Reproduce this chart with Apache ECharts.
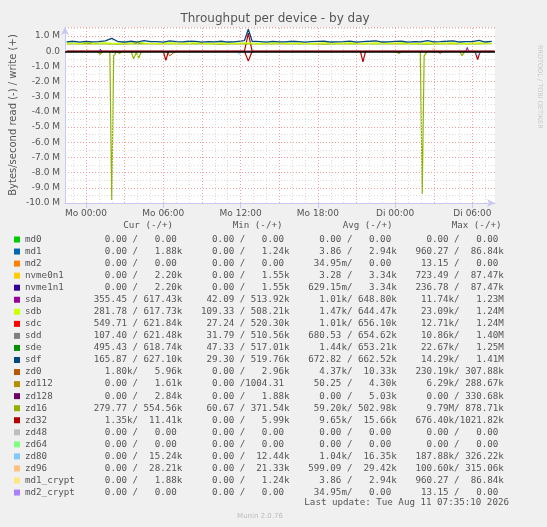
<!DOCTYPE html>
<html><head><meta charset="utf-8">
<script src="https://cdn.jsdelivr.net/npm/echarts@6/dist/echarts.min.js"></script>
<style>html,body{margin:0;background:#f0f0f0}#c{width:547px;height:527px}</style>
</head><body><div id="c"></div>
<script>
// ---- data ----
const names = ["md0","md1","md2","nvme0n1","nvme1n1","sda","sdb","sdc","sdd","sde","sdf","zd0","zd112","zd128","zd16","zd32","zd48","zd64","zd80","zd96","md1_crypt","md2_crypt"];
const colors = ["#00cc00","#0066b3","#ff8000","#ffcc00","#330099","#990099","#ccff00","#ff0000","#808080","#008f00","#00487d","#b35a00","#b38f00","#6b006b","#8fb300","#b30000","#bebebe","#80ff80","#80c9ff","#ffc080","#ffe680","#aa80ff"];
const curR = ["0.00","0.00","0.00","0.00","0.00","355.45","281.78","549.71","107.40","495.43","165.87","1.80k","0.00","0.00","279.77","1.35k","0.00","0.00","0.00","0.00","0.00","0.00"];
const curW = ["0.00","1.88k","0.00","2.20k","2.20k","617.43k","617.73k","621.84k","621.48k","618.74k","627.10k","5.96k","1.61k","2.84k","554.56k","11.41k","0.00","0.00","15.24k","28.21k","1.88k","0.00"];
const minR = ["0.00","0.00","0.00","0.00","0.00","42.09","109.33","27.24","31.79","47.33","29.30","0.00","0.00","0.00","60.67","0.00","0.00","0.00","0.00","0.00","0.00","0.00"];
const minW = ["0.00","1.24k","0.00","1.55k","1.55k","513.92k","508.21k","520.30k","510.56k","517.01k","519.76k","2.96k","1004.31","1.88k","371.54k","5.99k","0.00","0.00","12.44k","21.33k","1.24k","0.00"];
const avgR = ["0.00","3.86","34.95m","3.28","629.15m","1.01k","1.47k","1.01k","680.53","1.44k","672.82","4.37k","50.25","0.00","59.20k","9.65k","0.00","0.00","1.04k","599.09","3.86","34.95m"];
const avgW = ["0.00","2.94k","0.00","3.34k","3.34k","648.80k","644.47k","656.10k","654.62k","653.21k","662.52k","10.33k","4.30k","5.03k","502.98k","15.66k","0.00","0.00","16.35k","29.42k","2.94k","0.00"];
const maxR = ["0.00","960.27","13.15","723.49","236.78","11.74k","23.09k","12.71k","10.86k","22.67k","14.29k","230.19k","6.29k","0.00","9.79M","676.40k","0.00","0.00","187.88k","100.60k","960.27","13.15"];
const maxW = ["0.00","86.84k","0.00","87.47k","87.47k","1.23M","1.24M","1.24M","1.40M","1.25M","1.41M","307.88k","288.67k","330.68k","878.71k","1021.82k","0.00","0.00","326.22k","315.06k","86.84k","0.00"];

// plot series: hours since Mo 00:00, values in M bytes/s (write +, read -)
const sdfW = [[-1.5,0.62],[-1,0.66],[-0.5,0.6],[0,0.65],[0.5,0.62],[1,0.64],[1.5,0.68],[2,0.85],[2.5,0.63],[3,0.61],[3.5,0.66],[4,0.6],[4.5,0.7],[5,0.63],[5.5,0.64],[6,0.6],[6.5,0.68],[7,0.63],[7.5,0.62],[8,0.66],[8.5,0.65],[9,0.6],[9.5,0.63],[10,0.62],[10.5,0.66],[11,0.61],[11.5,0.62],[12.3,0.7],[12.6,1.45],[12.9,0.66],[13.5,0.63],[14,0.6],[14.5,0.65],[15,0.62],[15.5,0.62],[16,0.66],[16.5,0.64],[17,0.6],[17.5,0.63],[18,0.65],[18.5,0.66],[19,0.61],[19.5,0.62],[20,0.64],[20.5,0.67],[21,0.6],[21.5,0.63],[22,0.66],[22.5,0.68],[23,0.61],[23.5,0.62],[24,0.65],[24.5,0.66],[25,0.6],[25.5,0.64],[26,0.62],[26.5,0.7],[27,0.62],[27.5,0.63],[28,0.66],[28.5,0.68],[29,0.61],[29.5,0.64],[30,0.63],[30.5,0.72],[31,0.61],[31.5,0.65]];
const sdbW = [[-1.5,0.55],[-0.5,0.5],[0.2,0.62],[0.5,0.52],[1.5,0.56],[2.5,0.5],[3,0.55],[3.5,0.52],[4,0.62],[4.5,0.54],[5.5,0.5],[6.5,0.56],[7.5,0.52],[8.5,0.55],[9.5,0.5],[10.5,0.54],[11.5,0.52],[12.5,0.56],[13.5,0.5],[14.5,0.55],[15.5,0.52],[16.5,0.54],[17.5,0.5],[18.5,0.55],[19.5,0.52],[20.5,0.56],[21.5,0.5],[22.5,0.55],[23.5,0.52],[24.5,0.56],[25.5,0.5],[26.5,0.55],[27.5,0.52],[28.5,0.56],[29.5,0.5],[30.5,0.55],[31.5,0.52]];
const zd16W = [[-1.5,0.48],[0.5,0.5],[2.5,0.47],[4.5,0.5],[6.5,0.48],[8.5,0.5],[10.5,0.47],[12.5,0.5],[14.5,0.48],[16.5,0.5],[18.5,0.47],[20.5,0.5],[22.5,0.48],[24.5,0.5],[26.5,0.47],[28.5,0.5],[30.5,0.48],[31.5,0.5]];
const zd16R = [[-1.5,0],[0.9,0],[1.1,-0.2],[1.3,0],[1.85,0],[2.0,-9.8],[2.15,-0.3],[2.4,0],[2.6,-0.15],[2.8,0],[3.5,0],[3.7,-0.5],[3.9,-0.1],[4.1,-0.45],[4.3,0],[24,0],[24.3,-0.15],[24.5,0],[25.95,0],[26.1,-9.4],[26.25,-0.3],[26.5,0],[29,0],[29.2,-0.3],[29.4,0],[31.7,0]];
const zd32R = [[-1.5,0],[6,0],[6.2,-0.6],[6.4,0],[8.8,0],[8.9,-0.08],[9,0],[12.3,0],[12.6,-0.65],[12.9,0],[21.3,0],[21.5,-0.7],[21.7,0],[30.2,0],[30.4,-0.55],[30.6,0],[31.7,0]];
const zd32W = [[-1.5,0],[12.3,0],[12.6,1.2],[12.9,0],[31.7,0]];
const zd0R = [[-1.5,0],[6.3,0],[6.5,-0.3],[6.8,-0.1],[7,0],[27.3,0],[27.5,-0.15],[27.7,0],[31.7,0]];
const zd96W = [[-1.5,0],[-0.1,0],[0.1,0.15],[0.3,0],[26.8,0],[27,0.2],[27.2,0],[31.7,0]];
const zd80R = [[-1.5,0],[11.7,0],[11.9,-0.2],[12.1,0],[30.2,0],[30.4,-0.3],[30.6,0],[31.7,0]];
const sdaW = [[-1.5,0],[1,0],[1.1,0.15],[1.2,0],[29.5,0],[29.6,0.25],[29.7,0],[31.7,0]];
const xTicks = [0,6,12,18,24,30];
const xTickLabels = ["Mo 00:00","Mo 06:00","Mo 12:00","Mo 18:00","Di 00:00","Di 06:00"];
const vGrid = [-1,1,2,4,5,7,8,10,11,13,14,16,17,19,20,22,23,25,26,28,29,31];
const vMajor = [0,3,6,9,12,15,18,21,24,27,30];

const chart = echarts.init(document.getElementById('c'), null, {renderer:'canvas'});
const mono = "DejaVu Sans Mono";
const fmtR = v => { const s = /[a-zA-Z]$/.test(v) ? v : v + " "; return s.padStart(7) + "/"; };
const fmtW = v => { const s = /[a-zA-Z]$/.test(v) ? v : v + " "; return s.padStart(8); };
const graphics = [];
const colX = [93.8, 201, 308.2, 415.4];
["Cur (-/+)","Min (-/+)","Avg (-/+)","Max (-/+)"].forEach((h,i)=>{
  graphics.push({type:'text',left:[123.3,232.7,342.7,451.7][i],top:221,style:{text:h,font:`9.2px "${mono}"`,fill:'#555'}});
});
names.forEach((n,i)=>{
  const y = 239.5 + i*12.05;
  graphics.push({type:'rect',shape:{x:14,y:y-3,width:6,height:6},style:{fill:colors[i]}});
  graphics.push({type:'text',x:25,y:y,style:{text:n,font:`9.2px "${mono}"`,fill:'#555',verticalAlign:'middle'}});
  [[curR,curW],[minR,minW],[avgR,avgW],[maxR,maxW]].forEach((c,k)=>{
    graphics.push({type:'text',x:colX[k],y:y,style:{text:fmtR(c[0][i])+fmtW(c[1][i]),font:`9.2px "${mono}"`,fill:'#555',verticalAlign:'middle'}});
  });
});
graphics.push({type:'text',x:509,y:503,style:{text:"Last update: Tue Aug 11 07:35:10 2026",font:`9.2px "${mono}"`,fill:'#555',align:'right',verticalAlign:'middle'}});
graphics.push({type:'text',x:260,y:516,style:{text:"Munin 2.0.76",font:'7px "DejaVu Sans"',fill:'#bbb',align:'center',verticalAlign:'middle'}});
graphics.push({type:'text',x:13,y:115,rotation:Math.PI/2,style:{text:"Bytes/second read (-) / write (+)",font:'10px "DejaVu Sans"',fill:'#555',align:'center',verticalAlign:'middle'}});
graphics.push({type:'text',x:540,y:45,rotation:-Math.PI/2,style:{text:"RRDTOOL / TOBI OETIKER",font:'6.5px "DejaVu Sans"',fill:'#c8c8c8',align:'left',verticalAlign:'middle'}});
graphics.push({type:'text',x:275,y:19,style:{text:"Throughput per device - by day",font:'12px "DejaVu Sans"',fill:'#555',align:'center',verticalAlign:'middle'}});
graphics.push({type:'rect',shape:{x:65,y:27,width:430,height:176},style:{fill:'#fff'},z:-10});

const line = (data,color,w) => ({type:'line',data,showSymbol:false,symbol:'none',lineStyle:{color,width:w||1},animation:false,z:3});
const series = [
  line(zd16R,"#8fb300",1.2), line(zd32R,"#b30000",1.2), line(zd0R,"#b35a00"), line(zd80R,"#80c9ff"),
  line(zd96W,"#ffc080"), line(sdaW,"#990099"), line(zd32W,"#b30000",1.2),
  line(zd16W,"#8fb300",1.2), line(sdbW,"#ccff00",1.2), line(sdfW,"#00487d",1.3),
  {type:'line',data:[],markLine:{silent:true,symbol:'none',animation:false,label:{show:false},
    data:[...vGrid.map(x=>({xAxis:x,lineStyle:{color:'#ddd',type:[1,2],width:1}})),
          ...vMajor.map(x=>({xAxis:x,lineStyle:{color:'#f0a0a0',type:[1,2],width:1}})),
          {yAxis:0,lineStyle:{color:'#000',type:'solid',width:1.5}}]},z:1}
];

chart.setOption({
  animation:false,
  backgroundColor:'#f0f0f0',
  graphic:graphics,
  grid:{left:65,right:52,top:27,bottom:324},
  xAxis:{type:'value',min:-1.63,max:31.75,
    axisLine:{onZero:false,lineStyle:{color:'#c8c8f0'},symbol:['none','arrow'],symbolSize:[6,8]},
    axisTick:{show:true,customValues:xTicks,lineStyle:{color:'#c8c8f0'}},
    axisLabel:{customValues:xTicks,formatter:v=>xTickLabels[xTicks.indexOf(v)],color:'#555',fontSize:9,fontFamily:'DejaVu Sans',margin:6},
    splitLine:{show:false}},
  yAxis:{type:'value',min:-10,max:1.6,interval:1,
    axisLine:{show:true,onZero:false,lineStyle:{color:'#c8c8f0'},symbol:['none','arrow'],symbolSize:[6,8]},
    axisTick:{show:false},
    axisLabel:{showMaxLabel:false,color:'#555',fontSize:9,fontFamily:'DejaVu Sans',margin:5,formatter:v=>v===0?'0.0':v.toFixed(1)+' M'},
    splitLine:{lineStyle:{color:'#f0a0a0',type:[1,2]}},
    minorTick:{show:false,splitNumber:2},
    minorSplitLine:{show:true,lineStyle:{color:'#ddd',type:[1,2]}}},
  series
});
</script></body></html>
